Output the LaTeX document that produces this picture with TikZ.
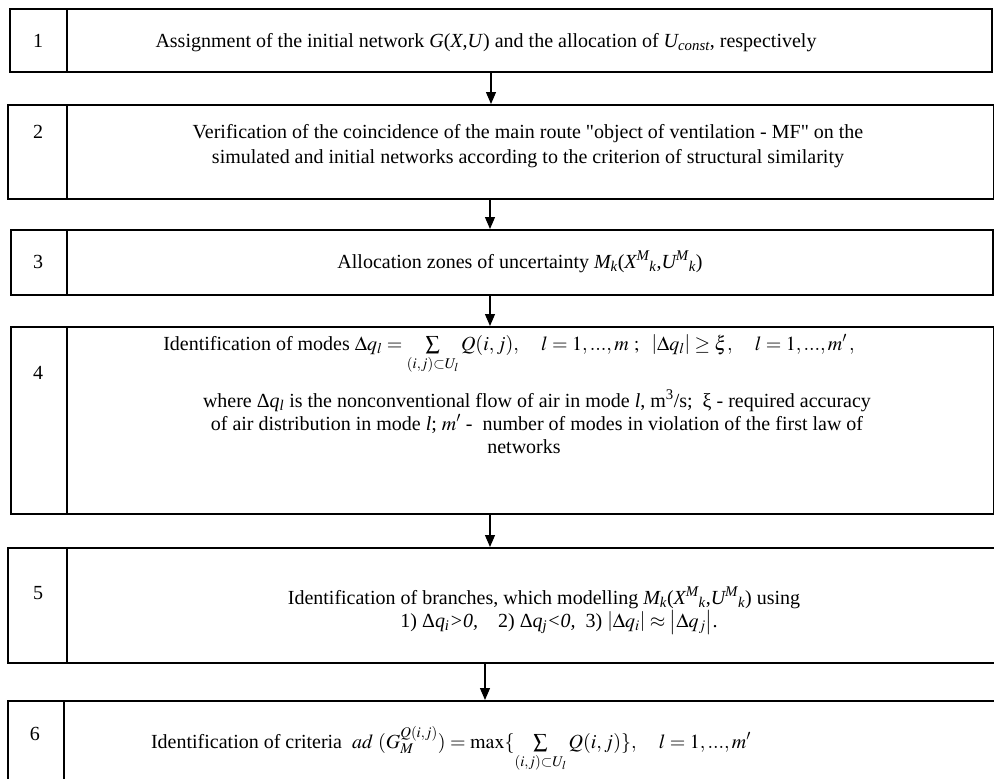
\documentclass[tikz,border=0pt]{standalone}
\usepackage{mathptmx}
\usepackage[no-math]{fontspec}
\setmainfont{Liberation Serif}
\usetikzlibrary{arrows.meta}
\newcommand{\fs}{\fontsize{20}{23}\selectfont}
\begin{document}
\begin{tikzpicture}[x=1pt,y=-1pt,
  box/.style={draw, line width=2.2pt, rectangle, anchor=north west, inner sep=0pt},
  divider/.style={line width=2.2pt},
  num/.style={font=\fs, anchor=base, inner sep=0pt},
  txt/.style={font=\fs, align=center, anchor=base, inner sep=0pt},
  arr/.style={line width=1.2pt, -{Triangle[length=12pt,width=10pt]}}]
\useasboundingbox (0,0) rectangle (994,779);
\clip (0,0) rectangle (994,779);
% boxes
\node[box, minimum width=982pt, minimum height=63pt] (b1) at (9,8) {};
\node[box, minimum width=986pt, minimum height=94pt] (b2) at (7,104) {};
\node[box, minimum width=982pt, minimum height=65pt] (b3) at (10,229) {};
\node[box, minimum width=983pt, minimum height=187pt] (b4) at (10,326) {};
\node[box, minimum width=1010pt, minimum height=115pt] (b5) at (7,547) {};
\node[box, minimum width=1010pt, minimum height=120pt] (b6) at (7,700) {};
% dividers
\draw[divider] (67,0 |- b1.north) -- (67,0 |- b1.south);
\draw[divider] (67,0 |- b2.north) -- (67,0 |- b2.south);
\draw[divider] (67,0 |- b3.north) -- (67,0 |- b3.south);
\draw[divider] (67,0 |- b4.north) -- (67,0 |- b4.south);
\draw[divider] (67,0 |- b5.north) -- (67,0 |- b5.south);
\draw[divider] (64,0 |- b6.north) -- (64,0 |- b6.south);
% numbers
\node[num] (n1) at (38,47) {1};
\node[num] (n2) at (38,138) {2};
\node[num] (n3) at (38,268) {3};
\node[num] (n4) at (38,379) {4};
\node[num] (n5) at (38,599) {5};
\node[num] (n6) at (35,740) {6};
% texts (base anchor = baseline of the last line)
\node[txt] (t1) at (486,47) {Assignment of the initial network \textit{G}(\textit{X},\textit{U}) and the allocation of \textit{U\textsubscript{const}}, respectively};
\node[txt] (t2) at (528,163) {Verification of the coincidence of the main route \textquotedbl object of ventilation - MF\textquotedbl{} on the\\[2pt]simulated and initial networks according to the criterion of structural similarity};
\node[txt] (t3) at (520,268) {Allocation zones of uncertainty \textit{M\textsubscript{k}}(\textit{X\textsuperscript{M}\textsubscript{k}},\textit{U\textsuperscript{M}\textsubscript{k}})};
\node[txt] (t4a) at (509,350) {Identification of modes $\Delta q_l = \textstyle\sum\limits_{(i,j)\subset U_l} Q(i,j),\quad l=1,...,m\ ;\ \ \left|\Delta q_l\right|\ge\xi,\quad l=1,...,m'\,,$};
\node[txt] (t4b) at (537,453) {where Δ\textit{q\textsubscript{l}} is the nonconventional flow of air in mode \textit{l}, m\textsuperscript{3}/s;\ \ ξ - required accuracy\\of air distribution in mode \textit{l}; $m'$ -\ \ number of modes in violation of the first law of\\networks\hspace*{26pt}};
\node[txt] (t5) at (544,627) {Identification of branches, which modelling \textit{M\textsubscript{k}}(\textit{X\textsuperscript{M}\textsubscript{k}},\textit{U\textsuperscript{M}\textsubscript{k}}) using\\\hspace*{30pt}1) Δ\textit{q\textsubscript{i}>0,}\quad 2) Δ\textit{q\textsubscript{j}<0,}\ \ 3) $\left|\Delta q_i\right|\approx\left|\Delta q_j\right|$.};
\node[txt] (t6) at (451,748) {Identification of criteria \ $ad\ (G_M^{Q(i,j)}) = \max\{\textstyle\sum\limits_{(i,j)\subset U_l} Q(i,j)\},\quad l=1,...,m'$};
% arrows
\draw[arr] (491,0 |- b1.south) -- (491,0 |- b2.north);
\draw[arr] (490,0 |- b2.south) -- (490,0 |- b3.north);
\draw[arr] (490,0 |- b3.south) -- (490,0 |- b4.north);
\draw[arr] (490,0 |- b4.south) -- (490,0 |- b5.north);
\draw[arr] (485,0 |- b5.south) -- (485,0 |- b6.north);
\end{tikzpicture}
\end{document}
